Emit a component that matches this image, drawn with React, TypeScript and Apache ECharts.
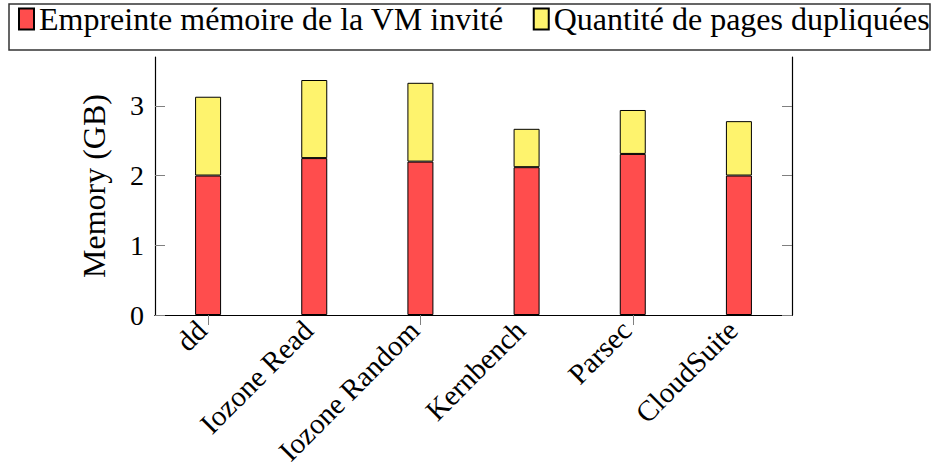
import React, { useEffect, useRef } from "react";
import * as echarts from "echarts";

const categories = ["dd", "Iozone Read", "Iozone Random", "Kernbench", "Parsec", "CloudSuite"];
const footprint = [2.0, 2.25, 2.2, 2.12, 2.31, 2.0];
const duplicated = [1.13, 1.12, 1.13, 0.55, 0.63, 0.78];
const yTicks = [0, 1, 2, 3];
const seriesNames = ["Empreinte mémoire de la VM invité", "Quantité de pages dupliquées"];
const yAxisName = "Memory (GB)";

const FONT = "Liberation Serif";

export default function App() {
  const ref = useRef<HTMLDivElement>(null);
  useEffect(() => {
    if (!ref.current) return;
    const chart = echarts.init(ref.current, null, { renderer: "svg" });
    const tickStyle = { show: true, inside: true, length: 10, lineStyle: { color: "#808080", width: 1 } };
    chart.setOption({
      animation: false,
      backgroundColor: "#ffffff",
      graphic: [
        {
          type: "rect",
          shape: { x: 9, y: 4, width: 921, height: 46 },
          style: { fill: "none", stroke: "#333333", lineWidth: 1.5 },
          z: 0,
        },
      ],
      legend: {
        left: 18,
        top: 3,
        padding: 0,
        width: 913,
        itemWidth: 15,
        itemHeight: 21,
        itemGap: 29,
        icon: "rect",
        textStyle: { fontFamily: FONT, fontSize: 32, color: "#000", padding: [7, 0, 0, 0] },
        data: seriesNames,
      },
      grid: { left: 155, right: 139, top: 57, bottom: 154, outerBoundsMode: "none", containLabel: false },
      xAxis: [
        {
          type: "category",
          data: categories,
          position: "bottom",
          axisLine: { show: true, lineStyle: { color: "#000", width: 1.2 } },
          axisTick: { show: false },
          axisLabel: {
            rotate: 45,
            margin: 4,
            interval: 0,
            padding: [0, 9, 0, 0],
            fontFamily: FONT,
            fontSize: 29,
            color: "#000",
          },
        },
        {
          type: "category",
          data: categories,
          position: "top",
          axisLine: { show: true, lineStyle: { color: "#000", width: 1.2 } },
          axisTick: { ...tickStyle, alignWithLabel: true },
          axisLabel: { show: false },
        },
      ],
      yAxis: [
        {
          type: "value",
          min: 0,
          max: 3.7,
          interval: 1,
          position: "left",
          name: yAxisName,
          nameLocation: "middle",
          nameGap: 45,
          nameRotate: 90,
          nameTextStyle: { fontFamily: FONT, fontSize: 32, color: "#000" },
          axisLine: { show: true, lineStyle: { color: "#000", width: 1.2 } },
          axisTick: { ...tickStyle, customValues: yTicks },
          axisLabel: {
            customValues: yTicks,
            margin: 11,
            fontFamily: FONT,
            fontSize: 28,
            color: "#000",
          },
          splitLine: { show: false },
        },
        {
          type: "value",
          min: 0,
          max: 3.7,
          interval: 1,
          position: "right",
          axisLine: { show: true, lineStyle: { color: "#000", width: 1.2 } },
          axisTick: { ...tickStyle, customValues: yTicks },
          axisLabel: { show: false },
          splitLine: { show: false },
        },
      ],
      series: [
        {
          name: seriesNames[0],
          type: "bar",
          stack: "total",
          data: footprint,
          barWidth: 26,
          itemStyle: { color: "#FF4D4D", borderColor: "#000", borderWidth: 1 },
        },
        {
          name: seriesNames[1],
          type: "bar",
          stack: "total",
          data: duplicated,
          barWidth: 26,
          itemStyle: { color: "#FEF36D", borderColor: "#000", borderWidth: 1 },
        },
      ],
    });
    return () => chart.dispose();
  }, []);
  return (
    <div
      ref={ref}
      style={{ position: "fixed", left: 0, top: 0, width: 931, height: 469 }}
    />
  );
}
